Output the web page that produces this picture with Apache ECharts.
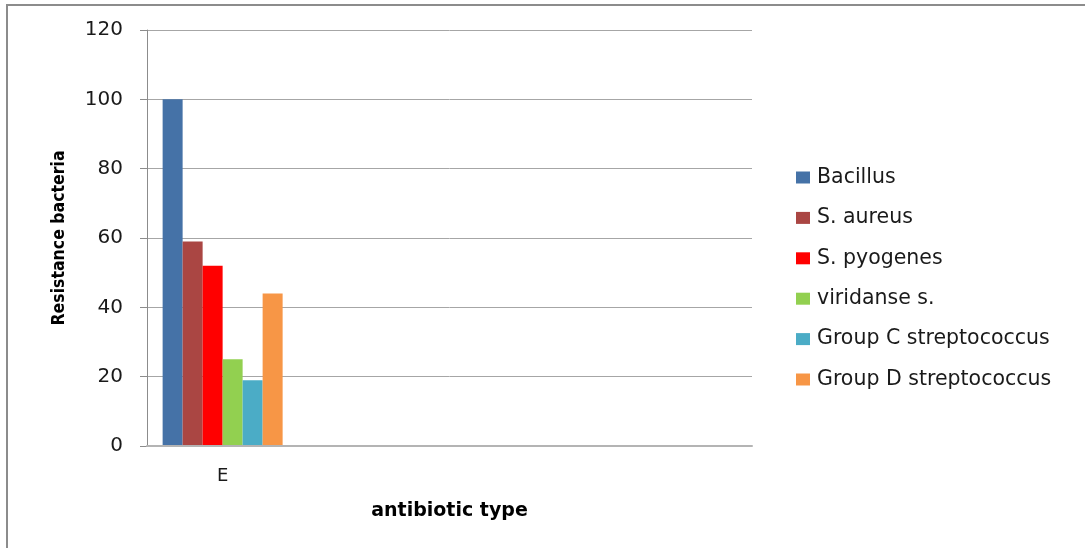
<!DOCTYPE html>
<html>
<head>
<meta charset="utf-8">
<script src="https://cdn.jsdelivr.net/npm/echarts@6/dist/echarts.min.js"></script>
<style>
  html, body { margin: 0; padding: 0; background: #ffffff; }
  #chart { width: 1085px; height: 548px; }
</style>
</head>
<body>
<div id="chart"></div>
<script>
// Antibiotic categories (only the first one carries data)
const categories = ['E', ' ', '  ', '   '];

// Resistance values per organism
const bacillus = [100];
const sAureus = [59];
const sPyogenes = [52];
const viridanse = [25];
const groupC = [19];
const groupD = [44];

const seriesNames = ['Bacillus', 'S. aureus', 'S. pyogenes', 'viridanse s.', 'Group C streptococcus', 'Group D streptococcus'];
const seriesValues = [bacillus, sAureus, sPyogenes, viridanse, groupC, groupD];
const seriesColors = ['#4572A7', '#AA4643', '#FF0000', '#92D050', '#4BACC6', '#F79646'];

const yTicks = [0, 20, 40, 60, 80, 100, 120];

const chart = echarts.init(document.getElementById('chart'), null, { renderer: 'canvas' });

const textFont = "'DejaVu Sans', sans-serif";

chart.setOption({
  animation: false,
  backgroundColor: '#ffffff',
  color: seriesColors,
  grid: { left: 147, right: 333, top: 30, bottom: 102, containLabel: false },
  legend: {
    orient: 'vertical',
    left: 796,
    top: 167,
    padding: 0,
    itemWidth: 14,
    itemHeight: 12,
    itemGap: 19.4,
    icon: 'rect',
    textStyle: { fontFamily: textFont, fontSize: 20.5, color: '#1a1a1a', padding: [0, 0, 0, 2] },
    data: seriesNames
  },
  xAxis: {
    type: 'category',
    data: categories,
    axisLine: { show: true, lineStyle: { color: '#b4b4b4', width: 2 } },
    axisTick: { show: false },
    axisLabel: { fontFamily: textFont, fontSize: 18, color: '#1a1a1a', margin: 21 },
    name: 'antibiotic type',
    nameLocation: 'middle',
    nameGap: 56,
    nameTextStyle: { fontFamily: textFont, fontWeight: 'bold', fontSize: 19, color: '#000000' },
    z: 5
  },
  yAxis: {
    type: 'value',
    min: yTicks[0],
    max: yTicks[yTicks.length - 1],
    interval: 20,
    axisLine: { show: true, lineStyle: { color: '#8c8c8c', width: 1 } },
    axisTick: { show: true, length: 7, lineStyle: { color: '#8c8c8c' } },
    axisLabel: { fontFamily: textFont, fontSize: 20, color: '#1a1a1a', margin: 24 },
    splitLine: { show: true, lineStyle: { color: '#a6a6a6', width: 1 } },
    name: 'Resistance bacteria',
    nameLocation: 'middle',
    nameGap: 79,
    nameTextStyle: { fontFamily: "'Liberation Sans Narrow', 'DejaVu Sans Condensed', sans-serif", fontWeight: 'bold', fontSize: 17.5, color: '#000000' }
  },
  series: seriesNames.map((name, i) => ({
    name: name,
    type: 'bar',
    data: seriesValues[i],
    barWidth: 20,
    barGap: '0%',
    itemStyle: { color: seriesColors[i] }
  })),
  graphic: [
    { type: 'line', shape: { x1: 6, y1: 5, x2: 1085, y2: 5 }, style: { stroke: '#8c8c8c', lineWidth: 2 }, silent: true },
    { type: 'line', shape: { x1: 7, y1: 4, x2: 7, y2: 548 }, style: { stroke: '#8c8c8c', lineWidth: 2 }, silent: true }
  ]
});
</script>
</body>
</html>
